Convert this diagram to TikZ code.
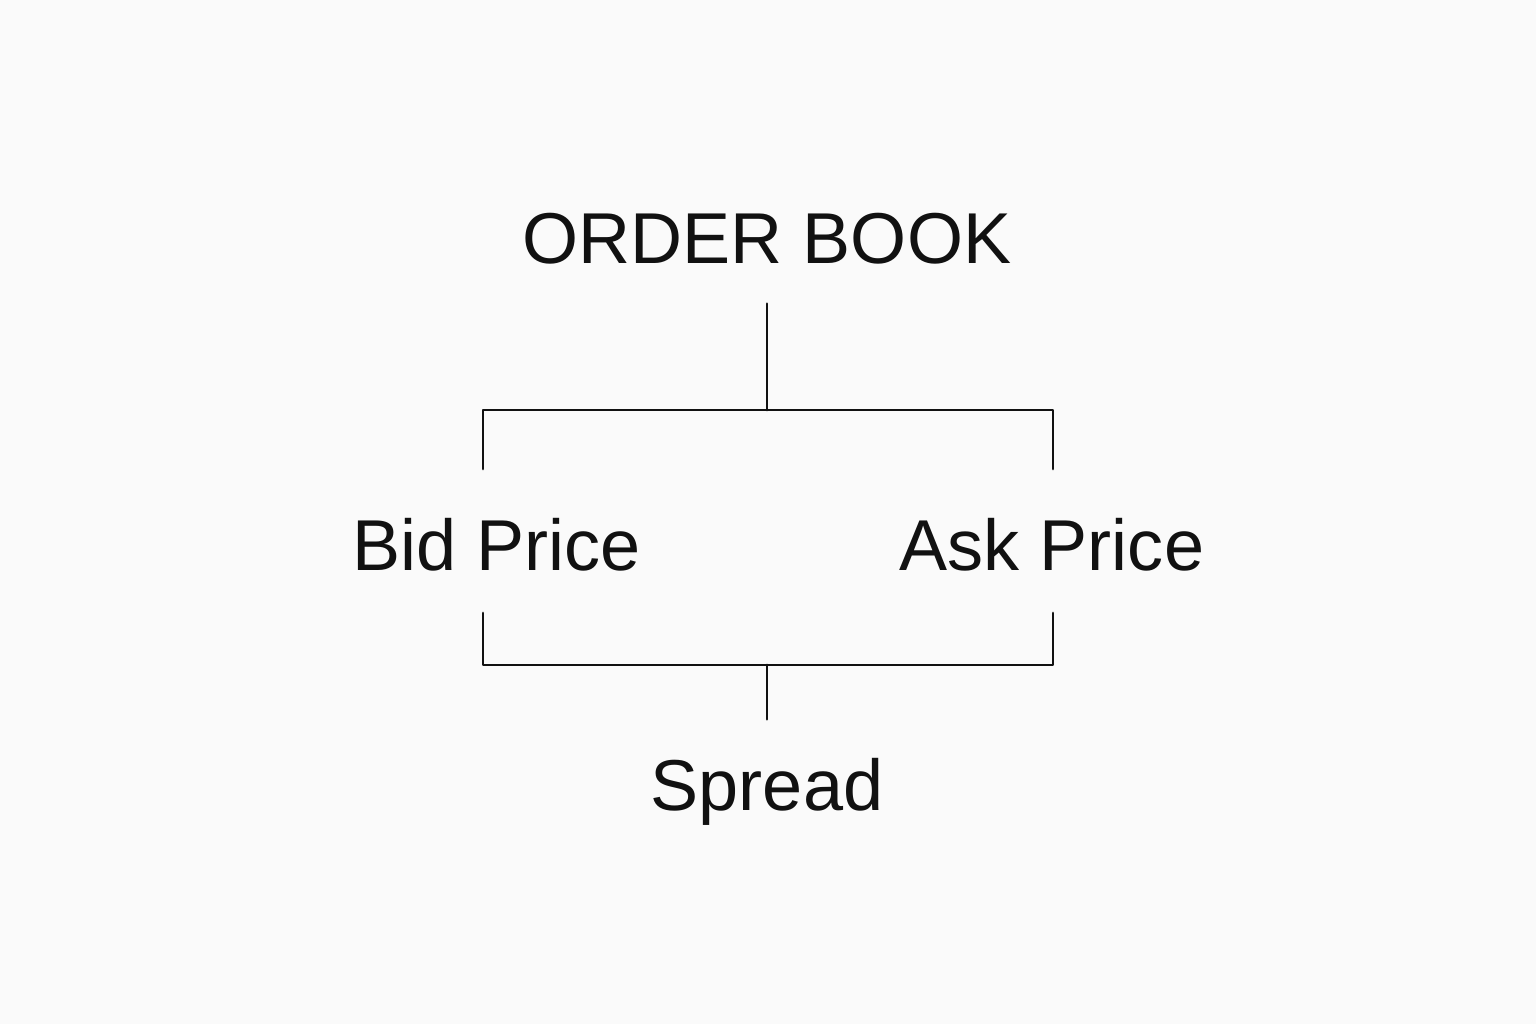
\documentclass[tikz,border=0pt]{standalone}
\usepackage{fontspec}
\setmainfont{Liberation Sans}
\definecolor{ink}{HTML}{111111}
\definecolor{paper}{HTML}{FAFAFA}
\begin{document}
\begin{tikzpicture}[line join=round, line cap=round,
	link/.style={draw=ink, line width=0.8pt},
	lbl/.style={inner sep=0pt, anchor=base, text=ink, text height=5mm, text depth=0pt, font=\fontsize{20.5}{24}\selectfont}]
			\fill[paper] (0,0) rectangle (15.36,10.24);
			\useasboundingbox (0,0) rectangle (15.36,10.24);
			\def\yb{4.54} % baseline of the two prices
			\node[lbl] (order) at (7.67,7.60) {ORDER BOOK};
			\node[lbl] (bid) at (4.97,\yb) {Bid Price};
			\node[lbl] (ask) at (10.52,\yb) {Ask Price};
			\node[lbl] (spread) at (7.67,2.14) {Spread};
			\coordinate (hub) at (7.67,6.14);
			\coordinate (foot) at (7.67,3.59);
			\coordinate (bidup) at (4.83,5.55);
			\coordinate (askup) at (10.53,5.55);
			\coordinate (biddown) at (4.83,4.11);
			\coordinate (askdown) at (10.53,4.11);
			\draw[link, shorten <=3.9mm] (order.south) -- (hub);
			\draw[link] (bidup) |- (hub) -| (askup);
			\draw[link] (biddown) |- (foot) -| (askdown);
			\draw[link, shorten >=4mm] (foot) -- (spread.north);
		\end{tikzpicture}
\end{document}
